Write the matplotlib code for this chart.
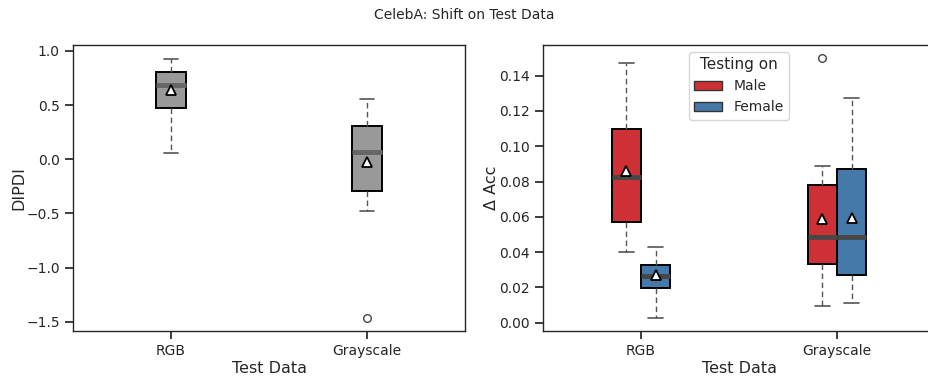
import matplotlib
matplotlib.use("Agg")
import matplotlib.pyplot as plt
import seaborn as sns
from matplotlib.patches import Patch

sns.set_theme(style="ticks")
plt.rcParams['font.family'] = ['DejaVu Sans']

categories = ["RGB", "Grayscale"]

# Left panel: DIPDI box statistics per category
dipdi_whislo = [0.06, -0.48]
dipdi_q1 = [0.47, -0.29]
dipdi_med = [0.685, 0.065]
dipdi_q3 = [0.81, 0.31]
dipdi_whishi = [0.93, 0.56]
dipdi_mean = [0.635, -0.03]
dipdi_fliers = [[], [-1.465]]

# Right panel: Delta Acc per hue
hues = ["Male", "Female"]
acc_whislo = {"Male": [0.0403, 0.0096], "Female": [0.0028, 0.0110]}
acc_q1 = {"Male": [0.0571, 0.0334], "Female": [0.0198, 0.0270]}
acc_med = {"Male": [0.0826, 0.0486], "Female": [0.0263, 0.0486]}
acc_q3 = {"Male": [0.1096, 0.0782], "Female": [0.0329, 0.0871]}
acc_whishi = {"Male": [0.147, 0.0888], "Female": [0.0429, 0.1276]}
acc_mean = {"Male": [0.086, 0.0586], "Female": [0.027, 0.0595]}
acc_fliers = {"Male": [[], [0.150]], "Female": [[], []]}
hue_colors = {"Male": "#cd3135", "Female": "#4479a9"}

fig = plt.figure(figsize=(9.29, 3.77), dpi=100)
ax1 = fig.add_axes([73/929, 1-331/377, 392/929, 286/377])
ax2 = fig.add_axes([543/929, 1-331/377, 392/929, 286/377])

text_color = "#262626"

def make_stats(wl, q1, med, q3, wh, mean, fl):
    return [dict(whislo=wl[i], q1=q1[i], med=med[i], q3=q3[i], whishi=wh[i],
                 mean=mean[i], fliers=fl[i], label=categories[i])
            for i in range(len(wl))]

def draw(ax, stats, positions, face, medcolor):
    ax.bxp(stats, positions=positions, widths=0.15, patch_artist=True,
           showmeans=True, showfliers=True,
           boxprops=dict(facecolor=face, edgecolor="black", linewidth=1.4),
           whiskerprops=dict(color="#555555", linestyle=(0, (4, 2.5)), linewidth=1.0),
           capprops=dict(color="#555555", linewidth=1.2),
           medianprops=dict(color=medcolor, linewidth=3.5),
           meanprops=dict(marker="^", markerfacecolor="white", markeredgecolor="black",
                          markersize=7, markeredgewidth=1.3),
           flierprops=dict(marker="o", markerfacecolor="none", markeredgecolor="#444444",
                           markersize=5.5, markeredgewidth=1.0),
           manage_ticks=False)

x = list(range(len(categories)))
draw(ax1, make_stats(dipdi_whislo, dipdi_q1, dipdi_med, dipdi_q3, dipdi_whishi,
                     dipdi_mean, dipdi_fliers), x, "#999999", "#666666")
ax1.set_xlim(-0.5, 1.5)
ax1.set_ylim(-1.586, 1.055)
ax1.set_xticks(x)
ax1.set_xticklabels(categories)
ax1.set_ylabel("DIPDI", fontsize=11.5, color=text_color, labelpad=0)
ax1.set_xlabel("Test Data", fontsize=11.5, color=text_color, labelpad=2)

offsets = {"Male": -0.075, "Female": 0.075}
for h in hues:
    st = make_stats(acc_whislo[h], acc_q1[h], acc_med[h], acc_q3[h], acc_whishi[h],
                    acc_mean[h], acc_fliers[h])
    draw(ax2, st, [xi + offsets[h] for xi in x], hue_colors[h], "#474747")
ax2.set_xlim(-0.5, 1.5)
ax2.set_ylim(-0.0047, 0.1574)
ax2.set_xticks(x)
ax2.set_xticklabels(categories)
ax2.set_yticks([0.0, 0.02, 0.04, 0.06, 0.08, 0.10, 0.12, 0.14])
ax2.set_ylabel("Δ Acc", fontsize=11.5, color=text_color, labelpad=0)
ax2.set_xlabel("Test Data", fontsize=11.5, color=text_color, labelpad=2)

handles = [Patch(facecolor=hue_colors[h], edgecolor="#333333", label=h) for h in hues]
leg = ax2.legend(handles=handles, title="Testing on", loc="upper center",
                 fontsize=10, title_fontsize=11, frameon=True)

for ax in (ax1, ax2):
    ax.tick_params(labelsize=10, colors=text_color)
    for s in ax.spines.values():
        s.set_color(text_color)
        s.set_linewidth(1.0)

fig.suptitle("CelebA: Shift on Test Data", fontsize=10, y=0.978, color=text_color)
fig.savefig("out.png", dpi=100)
